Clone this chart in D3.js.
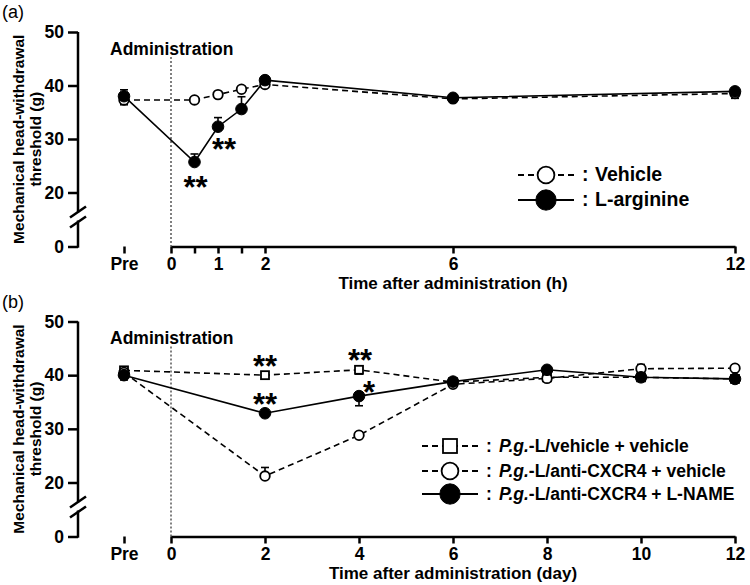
<!DOCTYPE html>
<html>
<head>
<meta charset="utf-8">
<script src="https://cdn.jsdelivr.net/npm/d3@7"></script>
<style>
  body { margin: 0; background: #fff; }
  svg { display: block; font-family: "Liberation Sans", Arial, sans-serif; }
  .axis path, .axis line { stroke: #000; stroke-width: 2.5; }
  .axis text { font-size: 17.5px; font-weight: bold; fill: #000; }
</style>
</head>
<body>
<svg id="chart" width="750" height="585"></svg>
<script>
// ---- data: panel (a), hours ("Pre" is plotted at -1)
const hoursA = [-1, 0.5, 1, 1.5, 2, 6, 12];
const vehicleA = [37.3, 37.3, 38.3, 39.3, 40.2, 37.5, 38.5];
const vehicleSemA = [-0.9, 0.5, 0.5, 0.5, 0.5, 0.4, -0.9];
const argA = [38.0, 25.7, 32.3, 35.6, 41.0, 37.7, 38.9];
const argSemA = [1.2, 1.5, 1.7, 2.3, 0.4, 0.4, 0.4];
const tickValuesA = [-1, 0, 0.5, 1, 1.5, 2, 6, 12];
const starsA = [[0.5, 25.7, "**"], [1, 32.3, "**"]];
const legendA = ["Vehicle", "L-arginine"];

// ---- data: panel (b), days
const daysB = [-1, 2, 4, 6, 8, 10, 12];
const vehB = [40.9, 40.0, 41.0, 38.7, 39.6, 39.6, 39.3];
const vehSemB = [0.4, 0.4, -0.8, 0.4, 0.4, 0.4, 0.4];
const cxcrB = [40.5, 21.2, 28.8, 38.3, 39.4, 41.2, 41.3];
const cxcrSemB = [0.4, 1.6, 0.6, 0.5, 0.5, 0.8, 0.6];
const lnameB = [40.0, 32.9, 36.1, 38.8, 41.0, 39.6, 39.3];
const lnameSemB = [-0.9, 0.4, -1.8, 0.4, 0.4, 0.4, 0.4];
const tickValuesB = [-1, 0, 2, 4, 6, 8, 10, 12];
const starsB = [[2, 40.0, "**"], [2, 32.9, "**"], [4, 41.0, "**"], [4, 36.1, "*"]];
const legendB = ["L/vehicle + vehicle", "L/anti-CXCR4 + vehicle", "L/anti-CXCR4 + L-NAME"];

const yTicks = [0, 20, 30, 40, 50];

var svg = d3.select("#chart");
svg.append("rect").attr("width", 750).attr("height", 585).attr("fill", "#fff");

var x = d3.scaleLinear().domain([0, 12]).range([171, 735]);

function zip(xs, ys, es) {
  return xs.map(function(d, i) { return { t: d, v: ys[i], e: es[i] }; });
}

function drawPanel(opt) {
  var g = svg.append("g");
  // broken axis: 0 then 20..50
  var y = d3.scaleLinear().domain([0, 20, 50]).range(opt.yRange);
  var y0 = y(0), y50 = y(50);

  // y axis without domain, then draw the broken line by hand
  var yAxis = g.append("g").attr("class", "axis")
      .attr("transform", "translate(78,0)")
      .call(d3.axisLeft(y).tickValues(yTicks).tickSize(10).tickPadding(4));
  yAxis.select(".domain").remove();
  g.append("line").attr("x1", 78).attr("x2", 78).attr("y1", y50).attr("y2", y0 - 34)
      .attr("stroke", "#000").attr("stroke-width", 2.5);
  g.append("line").attr("x1", 78).attr("x2", 78).attr("y1", y0 - 26).attr("y2", y0 + 1.2)
      .attr("stroke", "#000").attr("stroke-width", 2.5);
  [[-29, -40], [-19, -30]].forEach(function(s) {
    g.append("line").attr("x1", 70).attr("x2", 86)
        .attr("y1", y0 + s[0]).attr("y2", y0 + s[1])
        .attr("stroke", "#000").attr("stroke-width", 2.5);
  });

  // x axis; "Pre" sits outside the domain line
  g.append("g").attr("class", "axis")
      .attr("transform", "translate(0," + y0 + ")")
      .call(d3.axisBottom(x).tickValues(opt.ticks).tickSize(7).tickPadding(4)
        .tickSizeOuter(0)
        .tickFormat(function(d) {
          if (d === -1) return "Pre";
          return opt.tickLabel(d) ? d : "";
        }));

  // dotted administration line
  g.append("line").attr("x1", x(0)).attr("x2", x(0))
      .attr("y1", y50 + 25).attr("y2", y0)
      .attr("stroke", "#000").attr("stroke-width", 1).attr("stroke-dasharray", "2,2");
  g.append("text").attr("x", 110).attr("y", y50 + 22.5)
      .attr("font-size", 17.5).attr("font-weight", "bold").text("Administration");

  // axis titles
  g.append("text").attr("x", (x(0) + x(12)) / 2).attr("y", y0 + 42.5)
      .attr("text-anchor", "middle").attr("font-size", 17).attr("font-weight", "bold")
      .text(opt.xTitle);
  var yt = g.append("text").attr("transform", "translate(0," + (y50 + y0) / 2 + ") rotate(-90)")
      .attr("text-anchor", "middle").attr("font-size", 15.5).attr("font-weight", "bold");
  yt.append("tspan").attr("x", 0).attr("y", 24).text("Mechanical head-withdrawal");
  yt.append("tspan").attr("x", 0).attr("y", 41).text("threshold (g)");

  g.append("text").attr("x", 2).attr("y", y50 - 14).attr("font-size", 18).text(opt.tag);

  // series
  var line = d3.line().x(function(d) { return x(d.t); }).y(function(d) { return y(d.v); });
  opt.series.forEach(function(s) {
    g.append("path").datum(s.data).attr("d", line).attr("fill", "none")
        .attr("stroke", "#000").attr("stroke-width", 1.6)
        .attr("stroke-dasharray", s.dashed ? "6,4" : null);
  });
  opt.series.forEach(function(s) {
    var pts = g.append("g").selectAll("g").data(s.data).enter().append("g");
    pts.append("line")
        .attr("x1", function(d) { return x(d.t); }).attr("x2", function(d) { return x(d.t); })
        .attr("y1", function(d) { return y(d.v); }).attr("y2", function(d) { return y(d.v + d.e); })
        .attr("stroke", "#000").attr("stroke-width", 1.6);
    pts.append("line")
        .attr("x1", function(d) { return x(d.t) - 4; }).attr("x2", function(d) { return x(d.t) + 4; })
        .attr("y1", function(d) { return y(d.v + d.e); }).attr("y2", function(d) { return y(d.v + d.e); })
        .attr("stroke", "#000").attr("stroke-width", 1.6);
    pts.each(function(d) {
      drawMarker(d3.select(this), s.shape, x(d.t), y(d.v), 1);
    });
  });

  // significance marks
  opt.stars.forEach(function(s, i) {
    var off = opt.starOffsets[i];
    g.append("text").attr("x", x(s[0]) + off[0]).attr("y", y(s[1]) + off[1] + 17.5)
        .attr("text-anchor", "middle").attr("font-size", 31).attr("font-weight", "bold")
        .text(s[2]);
  });

  // legend
  opt.series.forEach(function(s, i) {
    var ly = y50 + opt.legendY[i], lx = opt.legendX;
    g.append("line").attr("x1", lx - 28).attr("x2", lx + 28).attr("y1", ly).attr("y2", ly)
        .attr("stroke", "#000").attr("stroke-width", 1.8)
        .attr("stroke-dasharray", s.dashed ? "6,4" : null);
    drawMarker(g, s.shape, lx, ly, 1.75);
    g.append("text").attr("x", lx + 36).attr("y", ly + 6)
        .attr("font-size", opt.legendSize).attr("font-weight", "bold").text(":");
    var t = g.append("text").attr("x", lx + 49).attr("y", ly + 6)
        .attr("font-size", opt.legendSize).attr("font-weight", "bold");
    if (opt.italicPrefix) {
      t.append("tspan").attr("font-style", "italic").text("P.g.");
      t.append("tspan").text("-" + opt.legend[i]);
    } else {
      t.text(opt.legend[i]);
    }
  });
}

function drawMarker(sel, shape, cx, cy, k) {
  if (shape === "square") {
    sel.append("rect").attr("x", cx - 4 * k).attr("y", cy - 4 * k)
        .attr("width", 8 * k).attr("height", 8 * k)
        .attr("fill", "#fff").attr("stroke", "#000").attr("stroke-width", 1.8);
  } else if (shape === "open") {
    sel.append("circle").attr("cx", cx).attr("cy", cy).attr("r", 4.8 * k)
        .attr("fill", "#fff").attr("stroke", "#000").attr("stroke-width", 1.8);
  } else {
    sel.append("circle").attr("cx", cx).attr("cy", cy).attr("r", 5.8 * k)
        .attr("fill", "#000").attr("stroke", "#000").attr("stroke-width", 1);
  }
}

drawPanel({
  tag: "(a)",
  yRange: [246.5, 192.5, 32],
  ticks: tickValuesA,
  tickLabel: function(d) { return d % 1 === 0; },
  xTitle: "Time after administration (h)",
  series: [
    { data: zip(hoursA, vehicleA, vehicleSemA), shape: "open", dashed: true },
    { data: zip(hoursA, argA, argSemA), shape: "filled", dashed: false }
  ],
  stars: starsA,
  starOffsets: [[1, 18], [6, 16]],
  legend: legendA,
  legendX: 546,
  legendY: [143, 168],
  legendSize: 19.5,
  italicPrefix: false
});

drawPanel({
  tag: "(b)",
  yRange: [536.5, 482.5, 321.5],
  ticks: tickValuesB,
  tickLabel: function(d) { return true; },
  xTitle: "Time after administration (day)",
  series: [
    { data: zip(daysB, vehB, vehSemB), shape: "square", dashed: true },
    { data: zip(daysB, cxcrB, cxcrSemB), shape: "open", dashed: true },
    { data: zip(daysB, lnameB, lnameSemB), shape: "filled", dashed: false }
  ],
  stars: starsB,
  starOffsets: [[0, -16], [0, -16], [1, -16], [10, -11]],
  legend: legendB,
  legendX: 450,
  legendY: [124.5, 149.5, 172.5],
  legendSize: 17.5,
  italicPrefix: true
});
</script>
</body>
</html>
